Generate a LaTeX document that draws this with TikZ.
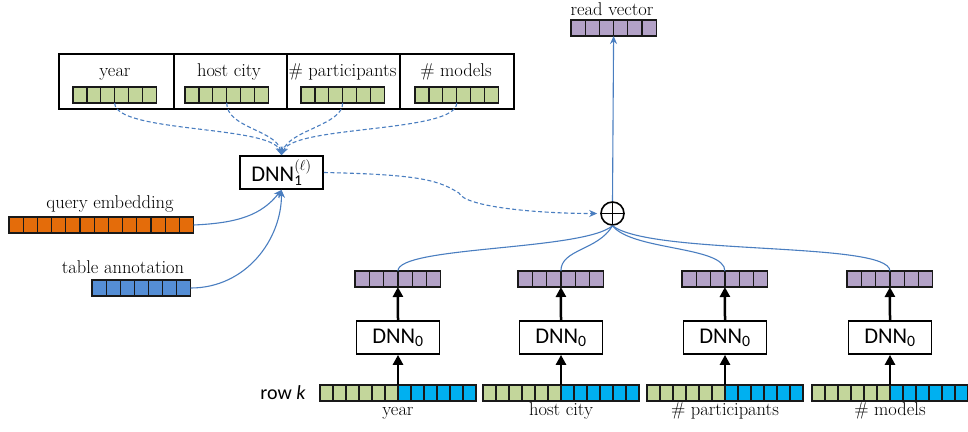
\documentclass[tikz,border=0pt]{standalone}
\usepackage{fontspec}
\newfontfamily\calibri{Carlito}
\usetikzlibrary{arrows.meta}
\definecolor{cgreen}{HTML}{C3D69B}
\definecolor{ccyan}{HTML}{00B0F0}
\definecolor{corange}{HTML}{E46C0A}
\definecolor{cannot}{HTML}{558ED5}
\definecolor{cpurple}{HTML}{B3A2C7}
\definecolor{lblue}{HTML}{4A7EC0}
\tikzset{
  cell/.style={draw=black!90, line width=1.2pt},
  tabcell/.style={draw=black, line width=1.5pt, inner sep=0pt, anchor=north west, minimum height=55pt},
  dnnbox/.style={draw=black, line width=1.7pt, inner sep=0pt, minimum width=83pt, minimum height=33pt, font=\calibri\fontsize{22.5}{25}\selectfont},
  lab/.style={font=\fontsize{18.5}{22}\selectfont, inner sep=0pt, anchor=base},
  dashconn/.style={draw=lblue, line width=1.1pt, dash pattern=on 4pt off 2.5pt, -{Stealth[length=8pt,width=7pt]}},
  solconn/.style={draw=lblue, line width=1.1pt},
  blk/.style={draw=black, line width=2.5pt, -{Triangle[length=10pt,width=10pt]}},
}
\newcommand\cellvec[8]{%
  \node[inner sep=0pt, outer sep=0pt, minimum width={#4*#5pt}, minimum height=16pt, anchor=north west] (#1) at (#2,#3) {};
  \foreach \i in {1,...,#4}{%
    \pgfmathsetmacro\cx{#2+(\i-1)*#5}%
    \ifnum\i>#7 \def\cf{#8}\else\def\cf{#6}\fi
    \draw[cell, fill=\cf] (\cx,#3) rectangle ++(#5,16);
  }}
\begin{document}
\begin{tikzpicture}[x=1pt,y=-1pt]
\useasboundingbox (0,0) rectangle (968,431);
% top table
\node[tabcell, minimum width=115pt] (t1) at (58,53) {};
\node[tabcell, minimum width=113pt] (t2) at (173,53) {};
\node[tabcell, minimum width=113pt] (t3) at (286,53) {};
\node[tabcell, minimum width=114pt] (t4) at (399,53) {};
\node[lab] (l1) at (115,76) {year};
\node[lab] (l2) at (229,76) {host city};
\node[lab] (l3) at (342.5,76) {\# participants};
\node[lab] (l4) at (456,76) {\# models};
\cellvec{yv}{73}{87}{6}{13.9}{cgreen}{6}{cgreen}
\cellvec{hv}{185}{87}{6}{13.9}{cgreen}{6}{cgreen}
\cellvec{pv}{301}{87}{6}{13.9}{cgreen}{6}{cgreen}
\cellvec{mv}{415}{87}{6}{13.9}{cgreen}{6}{cgreen}
% DNN1
\node[dnnbox] (dnn1) at (281.5,172.5) {DNN$_{\mbox{\calibri\fontsize{15}{15}\selectfont 1}}^{(\ell)}$\hspace{3pt}};
% query / annotation
\node[lab] (lq) at (110,208) {query embedding};
\cellvec{qe}{9}{217}{13}{14.2}{corange}{13}{corange}
\node[lab] (lt) at (123,273) {table annotation};
\cellvec{ta}{92}{280}{7}{14.1}{cannot}{7}{cannot}
% dashed into DNN1
\draw[dashconn] (yv.south) .. controls +(0,30) and +(-10,-30) .. (dnn1.north);
\draw[dashconn] (hv.south) .. controls +(0,25) and +(-5,-25) .. (dnn1.north);
\draw[dashconn] (pv.south) .. controls +(0,22) and +(8,-25) .. (dnn1.north);
\draw[dashconn] (mv.south) .. controls +(0,30) and +(12,-30) .. (dnn1.north);
% solid into DNN1
\draw[solconn, -{Stealth[length=8pt,width=7pt]}] (qe.east) .. controls +(45,-2) and +(-20,25) .. (dnn1.south);
\draw[solconn, -{Stealth[length=8pt,width=7pt]}] (ta.east) .. controls +(55,0) and +(0,50) .. (dnn1.south);
% plus
\node[circle, draw=black, line width=1.6pt, minimum size=23pt, inner sep=0pt] (plus) at (612.5,213.5) {};
\draw[line width=1.6pt] (plus.north) -- (plus.south) (plus.west) -- (plus.east);
\coordinate (bend) at (459,193);
\draw[dashconn] (dnn1.east) .. controls +(100,2) and +(-20,-12) .. (bend)
  .. controls +(6,14) and +(-60,0) .. ([xshift=-3pt]plus.west);
% read vector
\node[lab] (lr) at (612,15) {read vector};
\cellvec{rv}{571}{20}{6}{14.2}{cpurple}{6}{cpurple}
\draw[solconn, -{Stealth[length=8pt,width=7pt]}] (plus.north) -- (rv.south);
% row k
\node[font=\calibri\fontsize{20}{24}\selectfont, inner sep=0pt, anchor=base] (rowk) at (283,399) {row \textit{k}};
% columns
\foreach \n/\c/\t in {1/398/year, 2/561/host city, 3/725/\# participants, 4/890/\# models}{
  \pgfmathsetmacro\pl{\c-43}
  \pgfmathsetmacro\bl{\c-78}
  \cellvec{p\n}{\pl}{271}{6}{14.3}{cpurple}{6}{cpurple}
  \node[dnnbox] (d\n) at (\c,337.5) {DNN\textsubscript{0}};
  \cellvec{b\n}{\bl}{385}{12}{13}{cgreen}{6}{ccyan}
  \node[lab] (bl\n) at (\c,415) {\t};
  \draw[blk] (b\n.north) -- (d\n.south);
  \draw[blk] (d\n.north) -- (p\n.south);
}
\draw[solconn] (plus.south) .. controls +(-30,25) and +(0,-25) .. (p1.north);
\draw[solconn] (plus.south) .. controls +(-15,25) and +(0,-22) .. (p2.north);
\draw[solconn] (plus.south) .. controls +(20,25) and +(0,-25) .. (p3.north);
\draw[solconn] (plus.south) .. controls +(40,30) and +(0,-30) .. (p4.north);
\end{tikzpicture}
\end{document}
